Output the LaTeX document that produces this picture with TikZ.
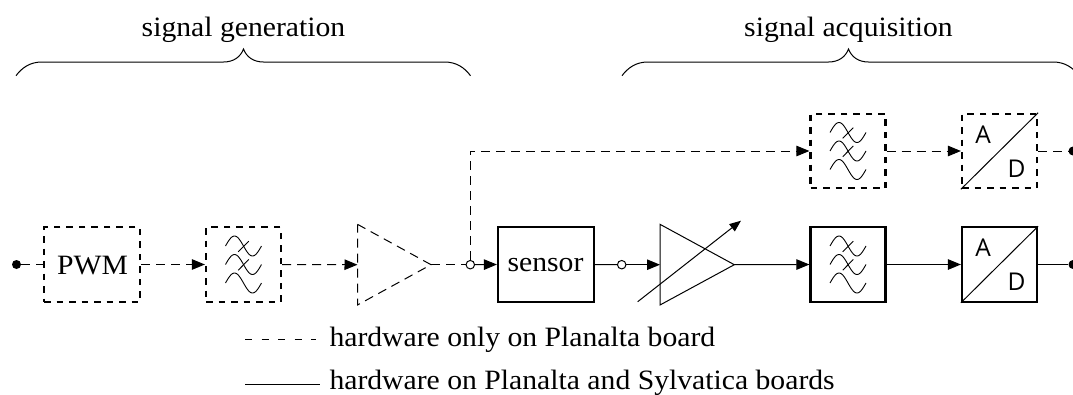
\documentclass[tikz,border=0pt]{standalone}
\usepackage{fontspec}
\setmainfont[FakeStretch=1.06]{Liberation Serif}
\setsansfont{Open Sans}
\usetikzlibrary{arrows.meta,calc}
\tikzset{
  x=1pt,y=-1pt,
  thickbox/.style={draw=black,line width=2.2pt,fill=none,inner sep=0pt,minimum width=75pt,minimum height=74.3pt},
  widebox/.style={minimum width=96pt},
  dashbox/.style={thickbox,dash pattern=on 6.5pt off 6pt},
  thinw/.style={line width=1pt},
  dashw/.style={line width=1pt,dash pattern=on 9pt off 6pt},
  legdash/.style={line width=1pt,dash pattern=on 7pt off 9.5pt},
  wave/.style={line width=.9pt},
  sig/.style={-{Triangle[length=13pt,width=10.5pt]}},
  lab/.style={font=\fontsize{28}{32}\selectfont,inner sep=0pt,anchor=base},
  adl/.style={font=\sffamily\fontsize{24.5}{28}\selectfont,inner sep=0pt},
  hollow/.style={circle,draw=black,fill=white,line width=1pt,minimum size=8.5pt,inner sep=0pt},
  solid dot/.style={circle,fill=black,minimum size=9pt,inner sep=0pt},
}
\newcommand{\filtermark}[1]{%
  \begin{scope}[shift={(#1)}]
  \foreach \dy in {-18.5,0,18.5}{
    \draw[wave] plot[domain=-18:18,samples=37,variable=\t,smooth] (\t,{\dy+10*sin(10*\t)});
  }
  \draw[wave] (-5.3,-12.7) -- (5.3,-23.3);
  \draw[wave] (-5.3,5.7) -- (5.3,-5);
  \end{scope}
}
\begin{document}
\begin{tikzpicture}
\useasboundingbox (0,0) rectangle (1073,394);
\begin{scope}
\clip (0,0) rectangle (1073,394);
% braces
\node[lab] (t1) at (243.5,36.5) {signal generation};
\node[lab] (t2) at (848.5,36.5) {signal acquisition};
\coordinate (b1l) at (16,75.7);
\coordinate (b1r) at (470.5,75.7);
\coordinate (b1t) at (243.5,49);
\coordinate (b2l) at (622,75.7);
\coordinate (b2r) at (1079,75.7);
\coordinate (b2t) at (848.5,49);
\foreach \l/\t/\r in {b1l/b1t/b1r,b2l/b2t/b2r}{
 \draw[line width=1pt] (\l) .. controls ($(\l)+(6,-8)$) and ($(\l)+(14,-13.7)$) .. ($(\l)+(26,-13.7)$)
   -- ($(\t)+(-20,13)$) .. controls ($(\t)+(-10,13)$) and ($(\t)+(-3,8)$) .. (\t)
   .. controls ($(\t)+(3,8)$) and ($(\t)+(10,13)$) .. ($(\t)+(20,13)$)
   -- ($(\r)+(-26,-13.7)$) .. controls ($(\r)+(-14,-13.7)$) and ($(\r)+(-6,-8)$) .. (\r);
}
% bottom row
\node[solid dot] (d0) at (16.5,264.5) {};
\node[dashbox,widebox] (pwm) at (92,264.5) {};
\node[lab] (pwmt) at (92.5,274) {PWM};
\node[dashbox] (f1) at (243.5,264.5) {};
\coordinate (a1l) at (357.5,264.7);
\coordinate (a1t) at (431,264.7);
\draw[dashw] (357.5,224.3) -- (431,264.7) -- (357.5,305) -- cycle;
\node[hollow] (c1) at (470.3,264.7) {};
\node[thickbox,widebox] (sensor) at (546,264.5) {};
\node[lab] (sensort) at (545.5,271.7) {sensor};
\node[hollow] (c2) at (621.7,264.7) {};
\coordinate (a2l) at (660,264.7);
\coordinate (a2t) at (734.3,264.7);
\draw[thinw] (660,224.3) -- (734.3,264.7) -- (660,305) -- cycle;
\draw[thinw,-{Triangle[length=11.5pt,width=9pt]}] (637.7,301.7) -- (741,220.7);
\node[thickbox] (f2) at (848,264.5) {};
\node[thickbox] (ad2) at (999.5,264.5) {};
\node[dashbox] (f3) at (848,151) {};
\node[dashbox] (ad3) at (999.5,151) {};
\node[solid dot] (e2) at (1073,264.5) {};
\node[solid dot] (e3) at (1073,151) {};
\filtermark{f1}\filtermark{f2}\filtermark{f3}
\foreach \n in {ad2,ad3}{
  \draw[line width=1pt] (\n.south west) -- (\n.north east);
  \node[adl] at ($(\n)+(-16.5,-16.3)$) {A};
  \node[adl] at ($(\n)+(17,17.3)$) {D};
}
% connectors
\draw[dashw] (d0) -- (pwm.west);
\draw[dashw,sig] (pwm.east) -- (f1.west);
\draw[dashw,sig] (f1.east) -- (a1l);
\draw[dashw] (a1t) -- (c1);
\draw[thinw,sig] (c1) -- (sensor.west);
\draw[thinw] (sensor.east) -- (c2);
\draw[thinw,sig] (c2) -- (a2l);
\draw[thinw,sig] (a2t) -- (f2.west);
\draw[thinw,sig] (f2.east) -- (ad2.west);
\draw[thinw] (ad2.east) -- (e2);
\draw[dashw,sig] (c1) -- (c1 |- f3) -- (f3.west);
\draw[dashw,sig] (f3.east) -- (ad3.west);
\draw[dashw] (ad3.east) -- (e3);
% legend
\coordinate (l1a) at (245,339.3);
\coordinate (l1b) at (316,339.3);
\coordinate (l2a) at (245,384.3);
\coordinate (l2b) at (320,384.3);
\draw[legdash] (l1a) -- (l1b);
\draw[thinw] (l2a) -- (l2b);
\node[lab,anchor=base west] (lt1) at (329.3,346.7) {hardware only on Planalta board};
\node[lab,anchor=base west] (lt2) at (329.3,389) {hardware on Planalta and Sylvatica boards};
\end{scope}
\end{tikzpicture}
\end{document}
